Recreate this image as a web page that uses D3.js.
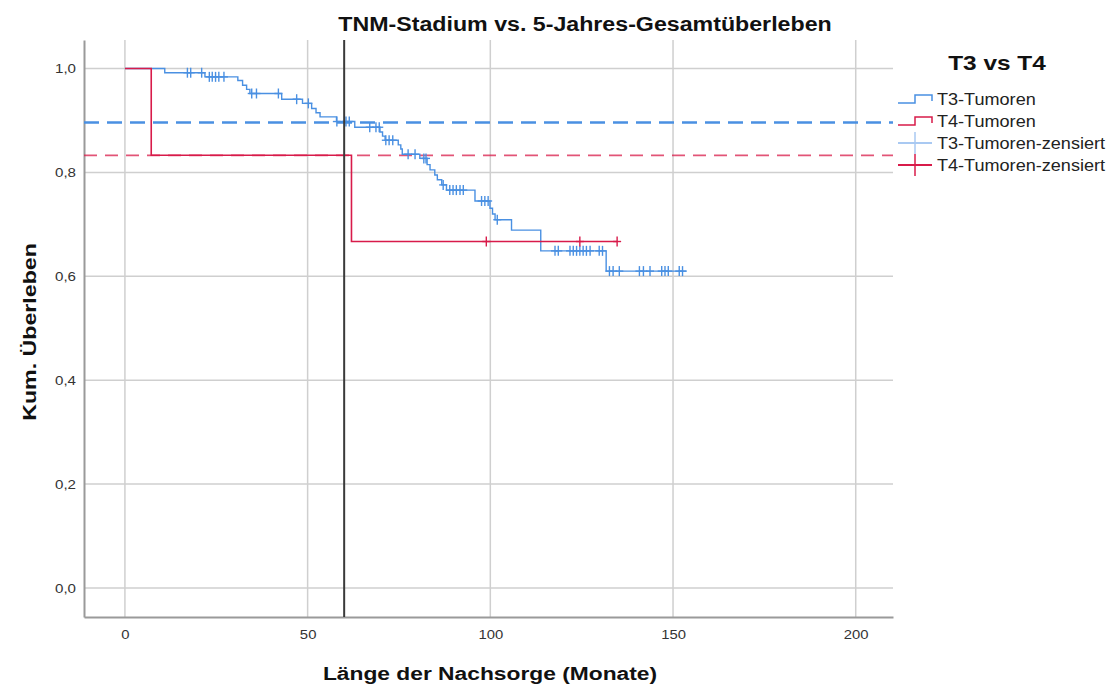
<!DOCTYPE html>
<html>
<head>
<meta charset="utf-8">
<script src="https://cdn.jsdelivr.net/npm/d3@7"></script>
<style>
  body { margin: 0; background: #fff; }
  svg { font-family: "Liberation Sans", Arial, sans-serif; }
</style>
</head>
<body>
<div id="chart"></div>
<script>
// Kaplan-Meier steps: [month, survival after event]
var t3Steps = [[10.9,0.992],[21.9,0.984],[30.9,0.977],[32.2,0.968],[33.3,0.960],[34.2,0.952],
  [42.9,0.941],[48.6,0.933],[51.1,0.923],[52.3,0.915],[53.4,0.907],[57.9,0.898],[62.9,0.887],
  [69.8,0.878],[70.5,0.870],[71.2,0.862],[74.8,0.853],[75.5,0.845],[75.9,0.835],[80.7,0.827],
  [82.7,0.815],[83.5,0.805],[84.8,0.795],[85.5,0.786],[86.7,0.776],[88.0,0.766],[95.8,0.745],
  [99.9,0.731],[100.6,0.720],[101.3,0.709],[105.8,0.689],[113.8,0.649],[131.7,0.610]];
var t3End = 153.7;
var t3Censored = [17.1,18.0,21.0,23.1,23.9,24.8,25.7,27.1,34.7,36.0,42.0,47.0,50.2,58.0,60.5,61.4,
  67.0,68.7,69.6,71.4,72.3,73.3,77.5,79.4,81.8,82.4,87.1,88.9,89.8,90.7,91.7,92.6,97.6,98.5,99.4,
  101.9,117.7,118.6,121.8,122.7,123.6,124.5,125.4,126.3,127.3,129.8,130.7,132.6,133.6,135.3,
  140.8,141.9,143.7,146.9,147.8,148.7,151.7,152.6];

var t4Steps = [[7.2,0.833],[62.0,0.667]];
var t4End = 134.7;
var t4Censored = [98.9,124.5,134.7];

// 5-year survival reference lines
var fiveYear = 60;
var refT3 = 0.896, refT4 = 0.833;

var xTicks = [0,50,100,150,200];
var yTicks = [0,0.2,0.4,0.6,0.8,1.0];
var legendLabels = ["T3-Tumoren","T4-Tumoren","T3-Tumoren-zensiert","T4-Tumoren-zensiert"];

var blue = "#4a90e2", red = "#d81b4a", blueLight = "#a9c9f2";
var W = 1109, H = 686;
var L = 84, R = 893, T = 40, B = 617;

var x = d3.scaleLinear().domain([-11.2, 210.2]).range([L, R]);
var y = d3.scaleLinear().domain([-0.056, 1.055]).range([B, T]);

var svg = d3.select("#chart").append("svg").attr("width", W).attr("height", H);

// wide text helper (reference font is wider than Liberation Sans)
function label(parent, px, py, txt, size, opts) {
  opts = opts || {};
  return parent.append("text")
    .attr("transform", "translate(" + px + "," + py + ")" + (opts.rot ? " rotate(" + opts.rot + ")" : "") +
      " scale(" + (opts.sx || 1.15) + ",1)")
    .attr("text-anchor", opts.anchor || "start")
    .attr("font-size", size).attr("font-weight", opts.bold ? "bold" : "normal")
    .attr("fill", opts.fill || "#111").text(txt);
}

// grid
svg.selectAll(".gx").data(xTicks).enter().append("line")
  .attr("x1", d => x(d)).attr("x2", d => x(d)).attr("y1", T).attr("y2", B)
  .attr("stroke", "#cfcfcf").attr("stroke-width", 1.5);
svg.selectAll(".gy").data(yTicks).enter().append("line")
  .attr("x1", L).attr("x2", R).attr("y1", d => y(d)).attr("y2", d => y(d))
  .attr("stroke", "#cfcfcf").attr("stroke-width", 1.5);

// axes
var fmt = d => d3.format(".1f")(d).replace(".", ",");
var yAxis = svg.append("g").attr("transform", "translate(" + L + ",0)")
  .call(d3.axisLeft(y).tickValues(yTicks).tickFormat(fmt).tickSize(0).tickPadding(8));
var xAxis = svg.append("g").attr("transform", "translate(0," + B + ")")
  .call(d3.axisBottom(x).tickValues(xTicks).tickSize(0).tickPadding(12));
[xAxis, yAxis].forEach(function(g) {
  g.select(".domain").attr("stroke", "#9a9a9a").attr("stroke-width", 2);
  g.selectAll("text").attr("font-size", 13.5).attr("fill", "#333")
    .attr("font-family", "'Liberation Sans', Arial, sans-serif");
});
xAxis.selectAll(".tick text").attr("transform", "scale(1.1,1)")
  .attr("x", function() { return 0; });
yAxis.selectAll(".tick text").each(function() {
  var t = d3.select(this);
  t.attr("transform", "translate(" + t.attr("x") + ",0) scale(1.12,1)").attr("x", 0);
});

// survival path builder
function stepPath(steps, end) {
  var pts = [[0, 1]], cur = 1;
  steps.forEach(function(s) { pts.push([s[0], cur]); pts.push([s[0], s[1]]); cur = s[1]; });
  pts.push([end, cur]);
  return d3.line().x(d => x(d[0])).y(d => y(d[1]))(pts);
}
function survAt(steps, t) {
  var v = 1;
  steps.forEach(function(s) { if (s[0] <= t) v = s[1]; });
  return v;
}

// reference lines
svg.append("line").attr("x1", L).attr("x2", R).attr("y1", y(refT3)).attr("y2", y(refT3))
  .attr("stroke", blue).attr("stroke-width", 2.5).attr("stroke-dasharray", "15,8");
svg.append("line").attr("x1", L).attr("x2", R).attr("y1", y(refT4)).attr("y2", y(refT4))
  .attr("stroke", red).attr("stroke-opacity", 0.75).attr("stroke-width", 1.8).attr("stroke-dasharray", "13,8");

// curves
svg.append("path").attr("d", stepPath(t3Steps, t3End)).attr("fill", "none")
  .attr("stroke", blue).attr("stroke-width", 1.4);
svg.append("path").attr("d", stepPath(t4Steps, t4End)).attr("fill", "none")
  .attr("stroke", red).attr("stroke-width", 1.6);

function censor(data, steps, color) {
  var g = svg.append("g").attr("stroke", color).attr("stroke-width", 1.4);
  data.forEach(function(t) {
    var cx = x(t), cy = y(survAt(steps, t));
    g.append("line").attr("x1", cx).attr("x2", cx).attr("y1", cy - 5).attr("y2", cy + 5);
    g.append("line").attr("x1", cx - 4).attr("x2", cx + 4).attr("y1", cy).attr("y2", cy);
  });
}
censor(t3Censored, t3Steps, blue);
censor(t4Censored, t4Steps, red);

// 60-month line
svg.append("line").attr("x1", x(fiveYear)).attr("x2", x(fiveYear)).attr("y1", T).attr("y2", B)
  .attr("stroke", "#3a3a3a").attr("stroke-width", 2);

// titles
label(svg, 585, 31, "TNM-Stadium vs. 5-Jahres-Gesamtüberleben", 20, {bold: true, anchor: "middle", sx: 1.16});
label(svg, 490, 680, "Länge der Nachsorge (Monate)", 19, {bold: true, anchor: "middle", sx: 1.2});
label(svg, 36, 332, "Kum. Überleben", 19, {bold: true, anchor: "middle", rot: -90, sx: 1.22});

// legend
var lg = svg.append("g");
label(lg, 997, 70, "T3 vs T4", 20, {bold: true, anchor: "middle", sx: 1.22});
var legColors = [blue, red, blueLight, red];
legendLabels.forEach(function(lab, i) {
  var cy = 99 + i * 22, c = legColors[i];
  if (i < 2) {
    lg.append("path").attr("d", "M898," + (cy + 4) + "H915V" + (cy - 4) + "H932V" + (cy + 2))
      .attr("fill", "none").attr("stroke", c).attr("stroke-width", 1.5);
  } else {
    lg.append("line").attr("x1", 898).attr("x2", 932).attr("y1", cy).attr("y2", cy)
      .attr("stroke", c).attr("stroke-width", 2);
    lg.append("line").attr("x1", 915).attr("x2", 915).attr("y1", cy - 11).attr("y2", cy + 11)
      .attr("stroke", c).attr("stroke-width", 1.5);
  }
  label(lg, 937, cy + 6, lab, 16, {fill: "#222", sx: 1.13});
});
</script>
</body>
</html>
